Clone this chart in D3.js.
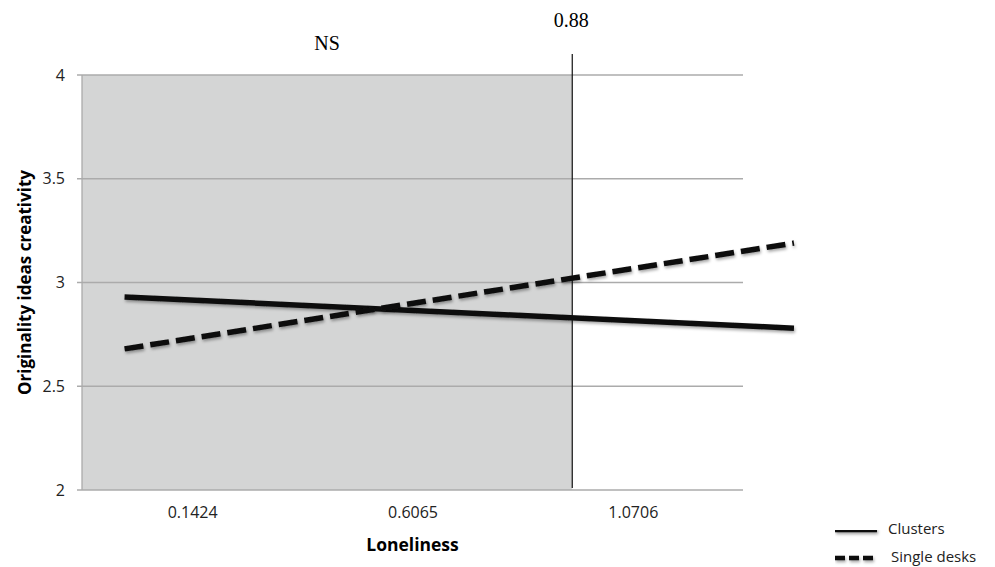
<!DOCTYPE html>
<html lang="en">
<head>
<meta charset="UTF-8">
<title>Originality ideas creativity by loneliness</title>
<script src="https://d3js.org/d3.v7.min.js"></script>
<style>
  body { margin: 0; background: #fff; }
  .tick text { font-family: "Open Sans", sans-serif; font-size: 16px; fill: #222; }
</style>
</head>
<body>
<div id="chart"></div>
<script>
// tick labels and data
var xCategories = [0.1424, 0.6065, 1.0706];
var yTicks = [2, 2.5, 3, 3.5, 4];

// lines as drawn: loneliness value at each end
var lineX = [0.0, 1.41];
var clusters = [2.93, 2.78];
var singleDesks = [2.68, 3.19];

// significance boundary (position on loneliness axis, and its label)
var boundaryX = 0.943;
var boundaryLabel = "0.88";
var regionLabel = "NS";

var width = 995, height = 567;
var margin = {top: 75, right: 252, bottom: 77, left: 82};
var step = xCategories[1] - xCategories[0];

var svg = d3.select("#chart").append("svg")
    .attr("width", width)
    .attr("height", height);

// soft shadow under the lines (user space so flat lines work too)
var defs = svg.append("defs");
var shadow = defs.append("filter").attr("id", "shadow")
    .attr("filterUnits", "userSpaceOnUse")
    .attr("x", 0).attr("y", 0).attr("width", width).attr("height", height);
shadow.append("feDropShadow")
    .attr("dx", 1).attr("dy", 2).attr("stdDeviation", 1.5)
    .attr("flood-color", "#000").attr("flood-opacity", 0.35);

var x = d3.scaleLinear()
    .domain([xCategories[0] - step / 2, xCategories[2] + step / 2])
    .range([margin.left, width - margin.right]);

var y = d3.scaleLinear()
    .domain([2, 4])
    .range([height - margin.bottom, margin.top]);

// shaded NS region
svg.append("rect")
    .attr("x", x.range()[0])
    .attr("y", y(4))
    .attr("width", x(boundaryX) - x.range()[0])
    .attr("height", y(2) - y(4))
    .attr("fill", "#d4d5d5");

// gridlines
svg.append("g")
    .selectAll("line")
    .data(yTicks)
    .enter().append("line")
    .attr("x1", x.range()[0] - 5)
    .attr("x2", x.range()[1])
    .attr("y1", function(d) { return y(d); })
    .attr("y2", function(d) { return y(d); })
    .attr("stroke", "#ababab")
    .attr("stroke-width", 1.3);

// y axis
var yAxis = svg.append("g")
    .attr("transform", "translate(" + (margin.left - 5) + ",0)")
    .call(d3.axisLeft(y).tickValues(yTicks).tickSize(0).tickPadding(12).tickFormat(d3.format("")));
yAxis.select(".domain").remove();

svg.append("line")
    .attr("x1", x.range()[0]).attr("x2", x.range()[0])
    .attr("y1", y(4)).attr("y2", y(2))
    .attr("stroke", "#ababab").attr("stroke-width", 1.3);

// x axis
var xAxis = svg.append("g")
    .attr("transform", "translate(0," + y(2) + ")")
    .call(d3.axisBottom(x).tickValues(xCategories).tickSize(0).tickPadding(17).tickFormat(d3.format(".4f")));
xAxis.select(".domain").remove();

// boundary line
svg.append("line")
    .attr("x1", x(boundaryX)).attr("x2", x(boundaryX))
    .attr("y1", 54).attr("y2", y(2) - 2)
    .attr("stroke", "#111").attr("stroke-width", 1.2);

svg.append("text")
    .attr("x", x(boundaryX) - 1)
    .attr("y", 27)
    .attr("text-anchor", "middle")
    .style("font-family", "'Liberation Serif', serif")
    .style("font-size", "20px")
    .text(boundaryLabel);

svg.append("text")
    .attr("x", 327)
    .attr("y", 50)
    .attr("text-anchor", "middle")
    .style("font-family", "'Liberation Serif', serif")
    .style("font-size", "20px")
    .text(regionLabel);

// series lines
var line = d3.line()
    .x(function(d, i) { return x(lineX[i]); })
    .y(function(d) { return y(d); });

svg.append("path")
    .datum(clusters)
    .attr("d", line)
    .attr("fill", "none")
    .attr("stroke", "#111")
    .attr("stroke-width", 5.5)
    .attr("filter", "url(#shadow)");

svg.append("path")
    .datum(singleDesks)
    .attr("d", line)
    .attr("fill", "none")
    .attr("stroke", "#111")
    .attr("stroke-width", 5.5)
    .attr("stroke-dasharray", "19,7")
    .attr("filter", "url(#shadow)");

// axis titles
svg.append("text")
    .attr("x", x(xCategories[1]))
    .attr("y", 551)
    .attr("text-anchor", "middle")
    .style("font-family", "'Open Sans', sans-serif")
    .style("font-weight", "bold")
    .style("font-size", "17.5px")
    .text("Loneliness");

svg.append("text")
    .attr("transform", "translate(31," + ((y(2) + y(4)) / 2) + ") rotate(-90)")
    .attr("text-anchor", "middle")
    .style("font-family", "'Open Sans', sans-serif")
    .style("font-weight", "bold")
    .style("font-size", "17px")
    .text("Originality ideas creativity");

// legend
var legend = svg.append("g").attr("transform", "translate(835,530)");
var legendItems = [
    {name: "Clusters", dash: null, dy: 0, tx: 53},
    {name: "Single desks", dash: "10,4", dy: 28, tx: 56}
];
legendItems.forEach(function(item) {
    legend.append("line")
        .attr("x1", 0).attr("x2", 42)
        .attr("y1", item.dy).attr("y2", item.dy)
        .attr("stroke", "#111")
        .attr("stroke-width", 4.5)
        .attr("stroke-dasharray", item.dash)
        .attr("filter", "url(#shadow)");
    legend.append("text")
        .attr("x", item.tx)
        .attr("y", item.dy + 4)
        .style("font-family", "'Open Sans', sans-serif")
        .style("font-size", "15px")
        .style("fill", "#222")
        .text(item.name);
});
</script>
</body>
</html>
